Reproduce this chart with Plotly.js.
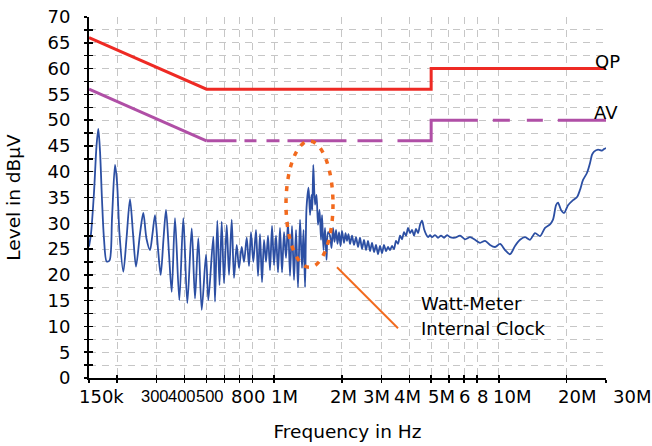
<!DOCTYPE html>
<html>
<head>
<meta charset="utf-8">
<script src="https://cdn.plot.ly/plotly-3.0.1.min.js"></script>
<style>
  html, body { margin: 0; padding: 0; background: #fff; }
  #chart { width: 652px; height: 446px; }
</style>
</head>
<body>
<div id="chart"></div>
<script>
// ---- Data (frequency in MHz, level in dBµV) ----
const freqMHz = [
  0.150, 0.1531, 0.1579, 0.1620, 0.1650, 0.1679, 0.1714, 0.1749, 0.1798, 0.1851,
  0.1899, 0.1958, 0.1999, 0.2050, 0.2132, 0.2203, 0.2283, 0.2355, 0.2428, 0.2530,
  0.2617, 0.2704, 0.2803, 0.2876, 0.2950, 0.3043, 0.3128, 0.3219, 0.3303, 0.3406,
  0.3501, 0.3621, 0.3785, 0.3943, 0.4108, 0.4298, 0.4445, 0.4598, 0.4762, 0.4976,
  0.5095, 0.5363, 0.5457, 0.5586, 0.5714, 0.5844, 0.5984, 0.6152, 0.6299, 0.6475,
  0.6630, 0.6816, 0.6979, 0.7174, 0.7345, 0.7551, 0.7731, 0.7891, 0.8080, 0.8307,
  0.8479, 0.8654, 0.8834, 0.9017, 0.9203, 0.9394, 0.9588, 0.9787, 0.9990, 1.0197,
  1.0408, 1.0623, 1.0844, 1.1068, 1.1297, 1.1531, 1.1769, 1.2013, 1.2262, 1.2516,
  1.2775, 1.3040, 1.3310, 1.352, 1.373, 1.394, 1.423, 1.445, 1.467, 1.479,
  1.494, 1.521, 1.544, 1.568, 1.593, 1.617, 1.634, 1.659, 1.685, 1.711,
  1.737, 1.773, 1.801, 1.829, 1.857, 1.886, 1.915, 1.945, 1.975, 2.005,
  2.047, 2.079, 2.111, 2.143, 2.177, 2.222, 2.268, 2.315, 2.363, 2.412,
  2.462, 2.513, 2.565, 2.618, 2.672, 2.727, 2.784, 2.841, 2.900, 2.961,
  3.022, 3.084, 3.148, 3.214, 3.280, 3.348, 3.417, 3.488, 3.560, 3.634,
  3.709, 3.786, 3.865, 3.945, 4.026, 4.110, 4.195, 4.282, 4.371, 4.461,
  4.553, 4.648, 4.744, 4.842, 4.943, 5.045, 5.203, 5.365, 5.532, 5.705,
  5.883, 6.067, 6.386, 6.722, 7.076, 7.448, 7.839, 8.252, 8.686, 9.141,
  9.622, 10.13, 10.66, 11.22, 11.81, 12.43, 13.09, 13.77, 14.50, 15.26,
  16.06, 16.91, 17.43, 17.98, 18.35, 18.92, 19.52, 20.33, 21.40, 22.30,
  22.99, 23.71, 24.70, 25.47, 26.00, 26.54, 27.65, 28.81, 29.40, 30.0
];
const levelDb = [
  25.5, 28, 36, 45, 48.3, 44, 34.5, 27, 22.6, 22.8,
  31, 41.3, 38, 28, 20.6, 27, 34.7, 28, 21.6, 28,
  32, 27, 24.8, 28, 31.6, 25, 20, 27, 32.6, 24,
  16.7, 31, 15.1, 31, 14.5, 29, 15.4, 27.1, 13.2, 23.9,
  15.1, 27.4, 14.8, 30.5, 18, 30.3, 18.4, 29.7, 20, 30.7,
  19.4, 25.8, 21.3, 25.4, 22.5, 27.2, 21.7, 28.3, 22.5, 28.7,
  19.8, 27.9, 18.6, 26.8, 22.5, 27.6, 20.9, 29.5, 21.9, 27.6,
  20.5, 29.1, 20.5, 28.3, 23.3, 30.2, 19.8, 29.5, 19, 28.7,
  17.6, 30.7, 21.3, 28.7, 17.6, 33, 36.9, 31.6, 35.5, 32.6,
  41.3, 33.6, 35.5, 29.7, 32.6, 26.8, 31.6, 24.8, 29.1, 22.9,
  28.3, 27.6, 25.2, 29.1, 26.4, 28.7, 26, 28.3, 25.6, 28.5,
  26.2, 28.1, 26.6, 27.9, 26, 27.6, 25.8, 27.3, 25.4, 27.2,
  25, 26.8, 24.8, 26.6, 24.6, 26.2, 24.4, 25.8, 24, 25.6,
  24.2, 25.8, 24.6, 25.4, 24.8, 25.6, 25, 26.6, 26, 27.6,
  26.9, 28.3, 27.6, 29.1, 28.1, 28.7, 27.6, 28.9, 28.1, 29.7,
  30.5, 28.9, 27.9, 27.3, 27.7, 27.3, 27.7, 27.2, 27.6, 27.2,
  27.7, 27.3, 27.2, 27.6, 26.9, 27.3, 26.8, 26.2, 26.6, 25.8,
  25.4, 26, 24.8, 24, 25.6, 26.8, 27.3, 26.8, 28.1, 27.5,
  29.1, 29.8, 30.7, 33.5, 34, 32.6, 32, 33.5, 34.5, 35.1,
  36.5, 38.4, 39.8, 41.7, 43.3, 43.9, 44.3, 44.1, 44.4, 44.6
];

// Limit lines (EN 55022 class B)
const limitFreqMHz = [0.15, 0.5, 5, 5, 30];
const qpLimit = [66, 56, 56, 60, 60];
const avLimit = [56, 46, 46, 50, 50];

// Axis ticks (grid/tick positions) and the tick labels as printed
const xTickVals = [0.15, 0.2, 0.3, 0.4, 0.5, 0.6, 0.7, 0.8, 1, 2, 3, 4, 5, 6, 7, 8, 10, 20, 30];
const xLabelText = ['150k', '300', '400', '500', '800', '1M', '2M', '3M', '4M', '5M', '6', '8', '10M', '20M', '30M'];

// ---- Styling / layout helpers ----
const FONT = 'DejaVu Sans, Liberation Sans, Arial, sans-serif';
const NARROW = 'Liberation Sans, Arial, sans-serif';
const gridColor = '#c6c6c6';
const gridDash = '7px,6px';
const xRange = [Math.log10(0.15), Math.log10(30)];
// horizontal pixel centres at which the original printed its x labels
const xLabelPx = [101, 154.5, 182, 209.5, 248, 284, 343, 376, 407, 441, 464, 482, 512, 577, 632];
// the crowded 300/400/500 labels use a narrower face so they only touch
const xLabelNarrow = [false, true, true, true, false, false, false, false, false, false, false, false, false, false, false];

function px2paperX(px) { return (px - 89) / 517; }
function px2paperY(py) { return (377.7 - py) / 360.7; }

const traces = [
  {
    x: freqMHz, y: levelDb, type: 'scatter', mode: 'lines',
    line: { color: '#2c4fa3', width: 1.8, shape: 'spline', smoothing: 0.8 },
    hoverinfo: 'skip', showlegend: false
  },
  {
    x: limitFreqMHz, y: qpLimit, type: 'scatter', mode: 'lines',
    line: { color: '#ee2a24', width: 3 }, showlegend: false
  },
  {
    x: limitFreqMHz.slice(0, 2), y: avLimit.slice(0, 2), type: 'scatter', mode: 'lines',
    line: { color: '#b04fa6', width: 3 }, showlegend: false
  },
  {
    x: limitFreqMHz.slice(1), y: avLimit.slice(1), type: 'scatter', mode: 'lines',
    line: { color: '#b04fa6', width: 3,
      dash: '30px,8px,12px,10px,13px,8px,59px,11px,25px,15px,101px,15px,17px,17px,16px,15px,80px' },
    showlegend: false
  },
  { x: [], y: [], xaxis: 'x2', yaxis: 'y2', type: 'scatter', mode: 'lines', showlegend: false }
];

const labelFont = { family: FONT, size: 18, color: '#000' };
const narrowFont = { family: NARROW, size: 16.5, color: '#000' };

const annotations = [
  { text: 'QP', xref: 'paper', yref: 'paper', x: px2paperX(607), y: px2paperY(61),
    xanchor: 'center', yanchor: 'middle', showarrow: false, font: labelFont },
  { text: 'AV', xref: 'paper', yref: 'paper', x: px2paperX(606), y: px2paperY(112),
    xanchor: 'center', yanchor: 'middle', showarrow: false, font: labelFont },
  { text: 'Watt-Meter', xref: 'paper', yref: 'paper', x: px2paperX(419), y: px2paperY(303),
    xanchor: 'left', yanchor: 'middle', showarrow: false, font: labelFont },
  { text: 'Internal Clock', xref: 'paper', yref: 'paper', x: px2paperX(419), y: px2paperY(328),
    xanchor: 'left', yanchor: 'middle', showarrow: false, font: labelFont }
];
xLabelText.forEach((t, i) => {
  annotations.push({
    text: t, xref: 'paper', yref: 'paper', x: px2paperX(xLabelPx[i]), y: px2paperY(396),
    xanchor: 'center', yanchor: 'middle', showarrow: false, borderpad: 0,
    font: xLabelNarrow[i] ? narrowFont : labelFont
  });
});

const layout = {
  width: 652, height: 446,
  margin: { l: 89, r: 46, t: 17, b: 68, pad: 0 },
  paper_bgcolor: '#ffffff', plot_bgcolor: '#ffffff',
  font: { family: FONT, size: 18, color: '#000' },
  showlegend: false,
  xaxis: {
    type: 'log', range: xRange, autorange: false,
    tickmode: 'array', tickvals: xTickVals, showticklabels: false,
    ticks: 'outside', ticklen: 3, tickwidth: 1.5, tickcolor: '#000',
    showline: true, linecolor: '#000', linewidth: 2,
    showgrid: true, gridcolor: gridColor, gridwidth: 1, griddash: gridDash,
    zeroline: false,
    title: { text: 'Frequency in Hz', font: { family: FONT, size: 18.5, color: '#000' }, standoff: 43 },
    automargin: false
  },
  yaxis: {
    range: [0, 70], autorange: false, tick0: 0, dtick: 5,
    ticks: 'outside', ticklen: 3, tickwidth: 1.5, tickcolor: '#000',
    showline: true, linecolor: '#000', linewidth: 2,
    showgrid: true, gridcolor: gridColor, gridwidth: 1, griddash: gridDash,
    zeroline: false, tickfont: labelFont,
    ticklabelstandoff: 10,
    minor: { dtick: 2.5, tick0: 0, ticks: 'outside', ticklen: 3, tickwidth: 1.5, tickcolor: '#000',
      showgrid: true, gridcolor: gridColor, gridwidth: 1, griddash: gridDash },
    title: { text: 'Level in dBμV', font: { family: FONT, size: 18.5, color: '#000' }, standoff: 22 },
    automargin: false
  },
  xaxis2: {
    type: 'log', range: xRange, autorange: false, overlaying: 'x', anchor: 'y2', side: 'bottom',
    tickmode: 'array', tickvals: xTickVals, ticks: 'inside', ticklen: 3, tickwidth: 1.5, tickcolor: '#000',
    showticklabels: false, showgrid: false, showline: false, zeroline: false
  },
  yaxis2: {
    range: [0, 70], autorange: false, overlaying: 'y', anchor: 'x2', side: 'left',
    tick0: 0, dtick: 5, ticks: 'inside', ticklen: 4, tickwidth: 1.5, tickcolor: '#000',
    showticklabels: false, showgrid: false, showline: false, zeroline: false,
    minor: { dtick: 2.5, tick0: 0, ticks: 'inside', ticklen: 4, tickwidth: 1.5, tickcolor: '#000', showgrid: false }
  },
  shapes: [
    {
      type: 'circle', xref: 'paper', yref: 'paper', layer: 'above',
      x0: px2paperX(286), x1: px2paperX(333), y0: px2paperY(267), y1: px2paperY(141),
      line: { color: '#f26a1e', width: 3.5, dash: '5px,7px' }
    },
    {
      type: 'line', xref: 'paper', yref: 'paper', layer: 'above',
      x0: px2paperX(337), y0: px2paperY(267), x1: px2paperX(398), y1: px2paperY(328),
      line: { color: '#f26a1e', width: 2 }
    }
  ],
  annotations: annotations
};

Plotly.newPlot('chart', traces, layout, { displayModeBar: false, staticPlot: true });
</script>
</body>
</html>
